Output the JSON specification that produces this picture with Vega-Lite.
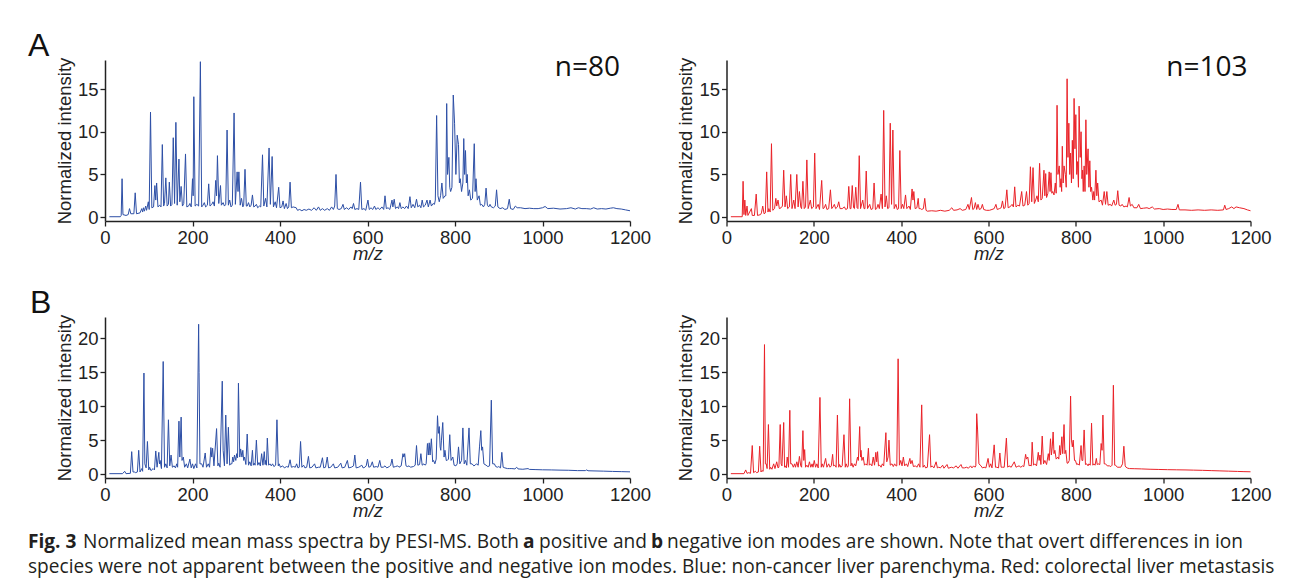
{
  "$schema": "https://vega.github.io/schema/vega-lite/v6.json",
  "background": "white",
  "padding": {"left": 28, "top": 30, "right": 5, "bottom": 5},
  "config": {
    "view": {"stroke": null},
    "axis": {
      "grid": false,
      "labelFlush": false,
      "domainColor": "#222",
      "domainWidth": 1.5,
      "tickColor": "#222",
      "tickWidth": 1.3,
      "tickSize": 5,
      "labelFont": "Liberation Sans",
      "labelFontSize": 18.5,
      "labelColor": "#222",
      "labelPadding": 2,
      "titleFont": "Liberation Sans",
      "titleFontSize": 18.5,
      "titleFontWeight": "normal",
      "titleColor": "#222"
    },
    "text": {"font": "Open Sans", "fontSize": 19.1, "color": "#231f20", "align": "left", "baseline": "alphabetic"}
  },
  "datasets": {
    "tl": [
      {"mz":10,"v":0.05},{"mz":35,"v":0.05},{"mz":37,"v":0.2},{"mz":39,"v":4.5},{"mz":41,"v":0.3},{"mz":48,"v":0.2},{"mz":53,"v":0.3},{"mz":56,"v":1.0},{"mz":59,"v":0.4},{"mz":66,"v":0.4},{"mz":69,"v":2.85},{"mz":72,"v":0.4},{"mz":80,"v":0.5},{"mz":84,"v":1.0},{"mz":86,"v":0.6},{"mz":88,"v":1.1},{"mz":90,"v":0.7},{"mz":93,"v":1.3},{"mz":95,"v":0.8},{"mz":99,"v":1.8},{"mz":101,"v":0.9},{"mz":104,"v":12.3},{"mz":107,"v":1.1},{"mz":111,"v":1.2},{"mz":114,"v":3.7},{"mz":116,"v":2.0},{"mz":118,"v":4.0},{"mz":121,"v":1.2},{"mz":125,"v":1.4},{"mz":128,"v":1.2},{"mz":131,"v":8.5},{"mz":134,"v":1.3},{"mz":136,"v":1.6},{"mz":139,"v":4.6},{"mz":142,"v":1.3},{"mz":145,"v":1.5},{"mz":147,"v":4.1},{"mz":150,"v":1.3},{"mz":153,"v":1.5},{"mz":156,"v":9.3},{"mz":159,"v":1.6},{"mz":162,"v":11.1},{"mz":165,"v":1.4},{"mz":169,"v":6.8},{"mz":171,"v":1.8},{"mz":174,"v":3.6},{"mz":177,"v":1.3},{"mz":180,"v":1.6},{"mz":184,"v":7.4},{"mz":187,"v":1.2},{"mz":191,"v":1.3},{"mz":194,"v":1.6},{"mz":197,"v":1.2},{"mz":200,"v":4.5},{"mz":201.5,"v":2.5},{"mz":203,"v":14.1},{"mz":206,"v":1.3},{"mz":210,"v":1.5},{"mz":214,"v":1.3},{"mz":218,"v":18.2},{"mz":221,"v":1.2},{"mz":224,"v":1.4},{"mz":227,"v":1.7},{"mz":230,"v":1.2},{"mz":234,"v":1.4},{"mz":237,"v":3.9},{"mz":240,"v":1.3},{"mz":244,"v":1.5},{"mz":247,"v":1.8},{"mz":250,"v":1.3},{"mz":253,"v":4.3},{"mz":255,"v":2.5},{"mz":257,"v":7.2},{"mz":260,"v":1.6},{"mz":264,"v":3.7},{"mz":266,"v":1.4},{"mz":270,"v":1.7},{"mz":273,"v":1.3},{"mz":276,"v":1.5},{"mz":279,"v":10.2},{"mz":282,"v":1.4},{"mz":285,"v":2.0},{"mz":288,"v":1.2},{"mz":291,"v":1.4},{"mz":295,"v":12.2},{"mz":298,"v":1.5},{"mz":302,"v":5.3},{"mz":304,"v":3.0},{"mz":306,"v":5.3},{"mz":309,"v":1.4},{"mz":312,"v":2.2},{"mz":315,"v":1.2},{"mz":317,"v":1.4},{"mz":320,"v":5.6},{"mz":323,"v":1.3},{"mz":325,"v":1.3},{"mz":328,"v":1.7},{"mz":331,"v":1.2},{"mz":334,"v":1.4},{"mz":337,"v":2.6},{"mz":340,"v":1.2},{"mz":343,"v":1.3},{"mz":346,"v":1.5},{"mz":349,"v":1.1},{"mz":353,"v":1.3},{"mz":356,"v":1.2},{"mz":360,"v":7.3},{"mz":363,"v":1.3},{"mz":367,"v":2.2},{"mz":370,"v":1.2},{"mz":375,"v":8.1},{"mz":378,"v":1.5},{"mz":382,"v":7.1},{"mz":385,"v":1.2},{"mz":389,"v":1.8},{"mz":392,"v":1.1},{"mz":397,"v":3.5},{"mz":400,"v":1.1},{"mz":404,"v":1.2},{"mz":407,"v":1.9},{"mz":410,"v":1.0},{"mz":414,"v":1.6},{"mz":417,"v":1.0},{"mz":420,"v":1.2},{"mz":423,"v":4.1},{"mz":426,"v":1.1},{"mz":430,"v":1.2},{"mz":437,"v":1.1},{"mz":440,"v":0.8},{"mz":445,"v":0.9},{"mz":450,"v":0.75},{"mz":455,"v":0.9},{"mz":460,"v":0.8},{"mz":466,"v":0.95},{"mz":472,"v":0.8},{"mz":478,"v":1.1},{"mz":483,"v":0.8},{"mz":488,"v":1.2},{"mz":492,"v":0.8},{"mz":497,"v":1.0},{"mz":502,"v":0.8},{"mz":508,"v":1.0},{"mz":513,"v":0.8},{"mz":518,"v":1.2},{"mz":522,"v":0.9},{"mz":525,"v":1.3},{"mz":528,"v":5.0},{"mz":531,"v":1.0},{"mz":535,"v":0.9},{"mz":540,"v":1.0},{"mz":544,"v":1.5},{"mz":547,"v":0.9},{"mz":552,"v":1.1},{"mz":557,"v":0.9},{"mz":562,"v":1.2},{"mz":565,"v":1.0},{"mz":568,"v":1.6},{"mz":571,"v":0.9},{"mz":576,"v":1.0},{"mz":580,"v":0.9},{"mz":584,"v":4.1},{"mz":587,"v":0.9},{"mz":592,"v":1.0},{"mz":596,"v":0.8},{"mz":601,"v":2.0},{"mz":604,"v":0.9},{"mz":608,"v":1.1},{"mz":612,"v":0.9},{"mz":616,"v":1.3},{"mz":619,"v":0.9},{"mz":624,"v":1.1},{"mz":628,"v":0.9},{"mz":633,"v":1.2},{"mz":637,"v":0.9},{"mz":640,"v":2.5},{"mz":643,"v":1.0},{"mz":647,"v":1.1},{"mz":651,"v":0.9},{"mz":656,"v":2.0},{"mz":658,"v":1.2},{"mz":661,"v":2.1},{"mz":664,"v":1.0},{"mz":668,"v":1.2},{"mz":671,"v":1.0},{"mz":674,"v":1.7},{"mz":677,"v":1.0},{"mz":681,"v":1.2},{"mz":685,"v":1.0},{"mz":689,"v":1.3},{"mz":693,"v":1.0},{"mz":697,"v":2.4},{"mz":700,"v":1.1},{"mz":704,"v":1.5},{"mz":708,"v":1.1},{"mz":712,"v":2.1},{"mz":715,"v":1.2},{"mz":719,"v":1.4},{"mz":722,"v":1.1},{"mz":725,"v":2.0},{"mz":728,"v":1.2},{"mz":732,"v":1.4},{"mz":736,"v":2.0},{"mz":739,"v":1.2},{"mz":743,"v":2.0},{"mz":746,"v":1.3},{"mz":750,"v":1.6},{"mz":753,"v":1.5},{"mz":755,"v":2.0},{"mz":758,"v":11.9},{"mz":761,"v":2.5},{"mz":764,"v":1.8},{"mz":767,"v":2.5},{"mz":770,"v":4.0},{"mz":773,"v":2.2},{"mz":777,"v":2.5},{"mz":779,"v":2.5},{"mz":781,"v":13.3},{"mz":783,"v":5.0},{"mz":786,"v":7.0},{"mz":788,"v":3.5},{"mz":790,"v":3.0},{"mz":793,"v":3.5},{"mz":796,"v":14.3},{"mz":799,"v":11.0},{"mz":802,"v":5.0},{"mz":805,"v":9.6},{"mz":808,"v":8.5},{"mz":810,"v":4.0},{"mz":812,"v":4.5},{"mz":815,"v":3.0},{"mz":818,"v":4.0},{"mz":820,"v":9.2},{"mz":822,"v":5.0},{"mz":824,"v":7.8},{"mz":826,"v":4.0},{"mz":828,"v":5.0},{"mz":830,"v":2.5},{"mz":833,"v":3.2},{"mz":836,"v":2.0},{"mz":840,"v":2.2},{"mz":844,"v":8.6},{"mz":846,"v":3.0},{"mz":848,"v":4.5},{"mz":851,"v":2.0},{"mz":855,"v":2.5},{"mz":858,"v":1.4},{"mz":861,"v":1.5},{"mz":865,"v":1.2},{"mz":868,"v":1.5},{"mz":871,"v":3.4},{"mz":874,"v":1.4},{"mz":877,"v":1.2},{"mz":880,"v":1.5},{"mz":883,"v":1.2},{"mz":888,"v":1.1},{"mz":892,"v":1.3},{"mz":895,"v":3.2},{"mz":898,"v":1.2},{"mz":903,"v":1.0},{"mz":909,"v":1.1},{"mz":914,"v":0.9},{"mz":920,"v":1.0},{"mz":924,"v":2.1},{"mz":927,"v":1.0},{"mz":933,"v":0.9},{"mz":938,"v":1.3},{"mz":942,"v":1.1},{"mz":950,"v":1.1},{"mz":960,"v":1.0},{"mz":970,"v":1.05},{"mz":980,"v":1.0},{"mz":990,"v":1.0},{"mz":1000,"v":1.1},{"mz":1006,"v":1.25},{"mz":1012,"v":1.0},{"mz":1025,"v":1.05},{"mz":1040,"v":0.95},{"mz":1055,"v":1.0},{"mz":1065,"v":1.1},{"mz":1075,"v":0.95},{"mz":1082,"v":1.1},{"mz":1090,"v":1.0},{"mz":1100,"v":1.0},{"mz":1110,"v":0.95},{"mz":1117,"v":1.1},{"mz":1125,"v":0.95},{"mz":1135,"v":1.0},{"mz":1145,"v":0.95},{"mz":1155,"v":1.05},{"mz":1162,"v":1.1},{"mz":1170,"v":1.0},{"mz":1180,"v":0.95},{"mz":1190,"v":0.85},{"mz":1200,"v":0.75}
    ],
    "tr": [
      {"mz":10,"v":0.05},{"mz":36,"v":0.05},{"mz":38,"v":4.2},{"mz":40,"v":0.3},{"mz":42,"v":2.0},{"mz":44,"v":0.2},{"mz":47,"v":1.3},{"mz":49,"v":0.2},{"mz":57,"v":1.0},{"mz":59,"v":0.2},{"mz":64,"v":0.2},{"mz":68,"v":2.7},{"mz":71,"v":0.2},{"mz":78,"v":0.3},{"mz":80,"v":0.5},{"mz":83,"v":1.3},{"mz":86,"v":0.4},{"mz":89,"v":0.5},{"mz":92,"v":5.3},{"mz":95,"v":0.6},{"mz":97,"v":1.0},{"mz":100,"v":0.6},{"mz":103,"v":8.6},{"mz":106,"v":0.8},{"mz":110,"v":1.0},{"mz":113,"v":2.2},{"mz":115,"v":1.3},{"mz":118,"v":2.0},{"mz":121,"v":1.0},{"mz":125,"v":1.1},{"mz":128,"v":1.3},{"mz":131,"v":5.5},{"mz":134,"v":1.2},{"mz":137,"v":2.5},{"mz":140,"v":1.0},{"mz":144,"v":1.2},{"mz":147,"v":5.0},{"mz":150,"v":1.0},{"mz":154,"v":2.0},{"mz":157,"v":1.0},{"mz":161,"v":5.0},{"mz":164,"v":1.2},{"mz":167,"v":3.0},{"mz":170,"v":1.2},{"mz":172,"v":1.0},{"mz":175,"v":4.2},{"mz":178,"v":1.0},{"mz":181,"v":1.2},{"mz":184,"v":6.7},{"mz":187,"v":1.0},{"mz":192,"v":2.0},{"mz":195,"v":1.0},{"mz":199,"v":1.2},{"mz":202,"v":7.5},{"mz":205,"v":1.0},{"mz":210,"v":1.5},{"mz":213,"v":0.9},{"mz":218,"v":4.3},{"mz":221,"v":1.0},{"mz":224,"v":1.1},{"mz":227,"v":1.5},{"mz":230,"v":0.9},{"mz":234,"v":1.0},{"mz":238,"v":3.2},{"mz":241,"v":1.0},{"mz":244,"v":1.2},{"mz":247,"v":1.5},{"mz":250,"v":1.0},{"mz":254,"v":1.2},{"mz":257,"v":1.8},{"mz":260,"v":1.0},{"mz":265,"v":1.0},{"mz":270,"v":1.2},{"mz":273,"v":0.9},{"mz":277,"v":1.0},{"mz":280,"v":3.6},{"mz":283,"v":1.0},{"mz":285,"v":1.0},{"mz":288,"v":3.7},{"mz":291,"v":1.1},{"mz":293,"v":1.0},{"mz":296,"v":3.5},{"mz":299,"v":1.1},{"mz":301,"v":1.0},{"mz":304,"v":7.2},{"mz":307,"v":1.0},{"mz":312,"v":2.0},{"mz":315,"v":1.0},{"mz":317,"v":1.0},{"mz":320,"v":5.4},{"mz":323,"v":1.0},{"mz":328,"v":1.5},{"mz":331,"v":0.9},{"mz":335,"v":1.0},{"mz":338,"v":4.0},{"mz":341,"v":0.9},{"mz":344,"v":1.0},{"mz":347,"v":1.5},{"mz":350,"v":1.0},{"mz":354,"v":2.7},{"mz":357,"v":1.0},{"mz":360,"v":12.5},{"mz":363,"v":1.2},{"mz":366,"v":2.5},{"mz":369,"v":1.0},{"mz":372,"v":1.1},{"mz":375,"v":11.0},{"mz":378,"v":1.5},{"mz":381,"v":10.2},{"mz":384,"v":1.0},{"mz":388,"v":1.5},{"mz":391,"v":0.9},{"mz":394,"v":1.0},{"mz":397,"v":7.8},{"mz":400,"v":1.0},{"mz":403,"v":1.5},{"mz":406,"v":1.0},{"mz":410,"v":2.6},{"mz":413,"v":1.0},{"mz":418,"v":1.3},{"mz":421,"v":0.9},{"mz":425,"v":3.3},{"mz":427,"v":2.0},{"mz":429,"v":3.0},{"mz":432,"v":1.0},{"mz":436,"v":1.1},{"mz":439,"v":2.2},{"mz":441,"v":1.0},{"mz":444,"v":1.0},{"mz":447,"v":0.9},{"mz":451,"v":1.0},{"mz":454,"v":2.2},{"mz":457,"v":0.8},{"mz":460,"v":0.7},{"mz":470,"v":0.75},{"mz":480,"v":0.7},{"mz":490,"v":0.8},{"mz":500,"v":0.7},{"mz":510,"v":0.8},{"mz":516,"v":1.1},{"mz":520,"v":0.8},{"mz":528,"v":0.85},{"mz":535,"v":1.0},{"mz":540,"v":0.8},{"mz":548,"v":0.9},{"mz":553,"v":1.5},{"mz":556,"v":0.9},{"mz":561,"v":2.3},{"mz":564,"v":0.9},{"mz":567,"v":1.0},{"mz":570,"v":1.7},{"mz":573,"v":0.9},{"mz":576,"v":1.5},{"mz":579,"v":0.9},{"mz":583,"v":1.0},{"mz":586,"v":1.5},{"mz":589,"v":0.9},{"mz":595,"v":0.8},{"mz":602,"v":0.8},{"mz":608,"v":0.9},{"mz":613,"v":1.0},{"mz":617,"v":1.5},{"mz":620,"v":0.9},{"mz":625,"v":1.0},{"mz":629,"v":1.1},{"mz":632,"v":1.9},{"mz":635,"v":1.0},{"mz":638,"v":1.1},{"mz":642,"v":3.2},{"mz":645,"v":1.1},{"mz":649,"v":1.2},{"mz":654,"v":1.5},{"mz":657,"v":1.2},{"mz":660,"v":3.55},{"mz":663,"v":1.2},{"mz":667,"v":1.4},{"mz":671,"v":1.3},{"mz":676,"v":3.0},{"mz":679,"v":1.3},{"mz":683,"v":1.4},{"mz":687,"v":3.0},{"mz":690,"v":1.4},{"mz":693,"v":1.6},{"mz":696,"v":5.9},{"mz":699,"v":1.8},{"mz":702,"v":5.8},{"mz":705,"v":1.6},{"mz":708,"v":2.0},{"mz":711,"v":2.5},{"mz":714,"v":1.8},{"mz":717,"v":6.3},{"mz":720,"v":2.0},{"mz":723,"v":2.2},{"mz":727,"v":5.5},{"mz":729,"v":2.5},{"mz":731,"v":5.1},{"mz":733,"v":2.3},{"mz":736,"v":2.8},{"mz":739,"v":5.3},{"mz":741,"v":3.0},{"mz":743,"v":5.2},{"mz":745,"v":2.8},{"mz":747,"v":3.0},{"mz":750,"v":2.6},{"mz":753,"v":4.0},{"mz":755,"v":2.8},{"mz":757,"v":13.1},{"mz":759,"v":5.0},{"mz":762,"v":6.0},{"mz":764,"v":3.5},{"mz":766,"v":4.5},{"mz":767.5,"v":3.0},{"mz":769,"v":8.3},{"mz":771,"v":4.0},{"mz":773,"v":6.0},{"mz":776,"v":5.0},{"mz":778,"v":3.5},{"mz":780,"v":16.2},{"mz":782,"v":7.0},{"mz":784,"v":11.0},{"mz":786,"v":5.0},{"mz":788,"v":7.5},{"mz":790,"v":4.0},{"mz":792,"v":9.0},{"mz":794,"v":4.5},{"mz":796,"v":13.9},{"mz":798,"v":8.0},{"mz":800,"v":12.0},{"mz":802,"v":5.0},{"mz":804,"v":6.5},{"mz":806,"v":3.5},{"mz":807.5,"v":13.0},{"mz":810,"v":7.0},{"mz":812,"v":10.0},{"mz":814,"v":4.5},{"mz":815.5,"v":5.5},{"mz":817,"v":3.0},{"mz":819,"v":6.0},{"mz":821,"v":3.0},{"mz":823,"v":11.4},{"mz":825,"v":5.0},{"mz":828,"v":8.0},{"mz":830,"v":3.5},{"mz":832,"v":6.6},{"mz":834,"v":3.0},{"mz":836,"v":3.5},{"mz":839,"v":2.0},{"mz":841,"v":3.0},{"mz":843,"v":2.0},{"mz":846,"v":5.5},{"mz":848,"v":2.5},{"mz":850,"v":4.0},{"mz":853,"v":1.8},{"mz":858,"v":2.0},{"mz":861,"v":1.4},{"mz":865,"v":3.0},{"mz":868,"v":1.5},{"mz":871,"v":3.0},{"mz":874,"v":1.4},{"mz":879,"v":1.5},{"mz":882,"v":1.3},{"mz":887,"v":2.0},{"mz":890,"v":1.4},{"mz":893,"v":1.5},{"mz":896,"v":3.1},{"mz":899,"v":1.4},{"mz":903,"v":1.3},{"mz":906,"v":1.5},{"mz":910,"v":1.2},{"mz":915,"v":1.3},{"mz":918,"v":1.2},{"mz":922,"v":2.3},{"mz":925,"v":1.3},{"mz":929,"v":1.5},{"mz":933,"v":1.1},{"mz":940,"v":1.1},{"mz":944,"v":1.5},{"mz":948,"v":1.0},{"mz":955,"v":1.05},{"mz":963,"v":1.1},{"mz":968,"v":1.0},{"mz":975,"v":1.2},{"mz":980,"v":0.95},{"mz":991,"v":1.0},{"mz":1000,"v":0.9},{"mz":1010,"v":0.95},{"mz":1020,"v":0.9},{"mz":1030,"v":0.9},{"mz":1034,"v":1.5},{"mz":1037,"v":0.85},{"mz":1050,"v":0.85},{"mz":1065,"v":0.8},{"mz":1080,"v":0.85},{"mz":1095,"v":0.8},{"mz":1110,"v":0.85},{"mz":1125,"v":0.8},{"mz":1138,"v":0.85},{"mz":1141,"v":1.4},{"mz":1144,"v":0.9},{"mz":1150,"v":1.0},{"mz":1157,"v":1.2},{"mz":1162,"v":1.0},{"mz":1167,"v":1.2},{"mz":1175,"v":1.1},{"mz":1185,"v":1.0},{"mz":1193,"v":0.85},{"mz":1200,"v":0.75}
    ],
    "bl": [
      {"mz":10,"v":0.05},{"mz":40,"v":0.05},{"mz":45,"v":0.4},{"mz":48,"v":0.05},{"mz":58,"v":0.1},{"mz":61,"v":3.3},{"mz":64,"v":0.3},{"mz":67,"v":0.3},{"mz":70,"v":0.2},{"mz":74,"v":0.3},{"mz":77,"v":3.5},{"mz":80,"v":0.3},{"mz":84,"v":0.8},{"mz":86,"v":0.4},{"mz":89,"v":14.9},{"mz":91,"v":1.5},{"mz":94,"v":0.9},{"mz":97,"v":4.8},{"mz":100,"v":0.6},{"mz":102,"v":1.0},{"mz":105,"v":0.5},{"mz":110,"v":0.8},{"mz":113,"v":0.6},{"mz":116,"v":3.4},{"mz":119,"v":1.0},{"mz":123,"v":3.2},{"mz":124.5,"v":1.5},{"mz":126,"v":2.0},{"mz":129,"v":0.8},{"mz":133,"v":16.6},{"mz":136,"v":1.0},{"mz":139,"v":1.5},{"mz":142,"v":0.9},{"mz":145,"v":8.0},{"mz":148,"v":1.2},{"mz":151,"v":2.8},{"mz":154,"v":1.0},{"mz":158,"v":1.2},{"mz":161,"v":0.9},{"mz":164,"v":1.5},{"mz":166,"v":1.0},{"mz":169,"v":7.8},{"mz":171,"v":2.5},{"mz":174,"v":8.4},{"mz":176,"v":2.0},{"mz":179,"v":2.5},{"mz":182,"v":1.0},{"mz":186,"v":1.5},{"mz":189,"v":0.9},{"mz":194,"v":2.2},{"mz":197,"v":0.9},{"mz":200,"v":1.5},{"mz":203,"v":0.8},{"mz":207,"v":1.5},{"mz":210,"v":0.9},{"mz":214,"v":22.1},{"mz":215,"v":15.0},{"mz":217,"v":1.5},{"mz":221,"v":1.5},{"mz":224,"v":1.0},{"mz":229,"v":3.1},{"mz":232,"v":1.0},{"mz":236,"v":1.5},{"mz":239,"v":1.0},{"mz":242,"v":3.9},{"mz":244,"v":2.5},{"mz":246,"v":3.8},{"mz":249,"v":1.2},{"mz":255,"v":6.7},{"mz":258,"v":1.2},{"mz":260,"v":1.6},{"mz":263,"v":1.0},{"mz":268,"v":13.7},{"mz":270,"v":3.5},{"mz":273,"v":1.2},{"mz":276,"v":8.7},{"mz":279,"v":1.5},{"mz":282,"v":6.9},{"mz":285,"v":1.3},{"mz":287,"v":1.5},{"mz":290,"v":1.5},{"mz":292,"v":2.5},{"mz":294,"v":1.8},{"mz":296,"v":2.8},{"mz":299,"v":2.0},{"mz":301,"v":3.0},{"mz":303,"v":2.4},{"mz":305,"v":13.4},{"mz":308,"v":2.5},{"mz":310,"v":3.7},{"mz":313,"v":2.5},{"mz":315,"v":3.5},{"mz":317,"v":2.0},{"mz":319,"v":2.5},{"mz":322,"v":1.4},{"mz":325,"v":5.9},{"mz":328,"v":1.3},{"mz":331,"v":1.8},{"mz":334,"v":1.2},{"mz":337,"v":3.5},{"mz":339,"v":1.3},{"mz":341,"v":1.6},{"mz":343,"v":1.3},{"mz":346,"v":5.0},{"mz":349,"v":1.3},{"mz":352,"v":1.7},{"mz":355,"v":1.2},{"mz":358,"v":3.0},{"mz":361,"v":1.3},{"mz":364,"v":3.3},{"mz":366,"v":1.4},{"mz":367,"v":2.0},{"mz":369,"v":1.3},{"mz":371,"v":5.3},{"mz":374,"v":1.3},{"mz":377,"v":1.5},{"mz":380,"v":1.2},{"mz":383,"v":1.5},{"mz":386,"v":1.1},{"mz":390,"v":1.3},{"mz":393,"v":8.0},{"mz":396,"v":1.2},{"mz":398,"v":1.5},{"mz":401,"v":1.0},{"mz":406,"v":1.2},{"mz":410,"v":0.9},{"mz":415,"v":1.1},{"mz":419,"v":1.0},{"mz":423,"v":2.1},{"mz":426,"v":1.0},{"mz":431,"v":1.1},{"mz":435,"v":1.0},{"mz":438,"v":1.5},{"mz":441,"v":0.9},{"mz":444,"v":1.0},{"mz":447,"v":4.8},{"mz":450,"v":1.0},{"mz":454,"v":1.3},{"mz":457,"v":0.9},{"mz":461,"v":1.0},{"mz":465,"v":2.6},{"mz":468,"v":0.9},{"mz":473,"v":1.0},{"mz":479,"v":1.5},{"mz":482,"v":0.9},{"mz":488,"v":1.0},{"mz":492,"v":1.0},{"mz":497,"v":2.4},{"mz":500,"v":0.9},{"mz":504,"v":1.0},{"mz":508,"v":2.5},{"mz":511,"v":0.9},{"mz":516,"v":1.0},{"mz":522,"v":1.5},{"mz":525,"v":0.9},{"mz":532,"v":1.0},{"mz":539,"v":1.6},{"mz":542,"v":0.9},{"mz":548,"v":1.0},{"mz":554,"v":2.0},{"mz":557,"v":0.9},{"mz":563,"v":1.0},{"mz":568,"v":1.2},{"mz":571,"v":2.8},{"mz":574,"v":0.9},{"mz":580,"v":1.0},{"mz":587,"v":1.3},{"mz":590,"v":0.9},{"mz":594,"v":1.0},{"mz":597,"v":1.2},{"mz":600,"v":2.2},{"mz":603,"v":1.0},{"mz":607,"v":1.1},{"mz":611,"v":1.8},{"mz":614,"v":1.0},{"mz":620,"v":1.1},{"mz":624,"v":1.0},{"mz":628,"v":2.0},{"mz":631,"v":1.0},{"mz":636,"v":1.0},{"mz":640,"v":1.2},{"mz":644,"v":0.9},{"mz":650,"v":1.1},{"mz":653,"v":1.3},{"mz":656,"v":2.2},{"mz":659,"v":1.0},{"mz":664,"v":1.1},{"mz":669,"v":1.2},{"mz":672,"v":1.0},{"mz":677,"v":1.2},{"mz":681,"v":3.0},{"mz":683,"v":2.5},{"mz":685,"v":3.0},{"mz":688,"v":1.2},{"mz":691,"v":1.1},{"mz":695,"v":1.2},{"mz":698,"v":1.0},{"mz":705,"v":1.1},{"mz":709,"v":1.3},{"mz":712,"v":4.2},{"mz":715,"v":1.3},{"mz":719,"v":1.4},{"mz":722,"v":3.0},{"mz":725,"v":1.3},{"mz":729,"v":1.5},{"mz":732,"v":1.3},{"mz":734,"v":1.5},{"mz":737,"v":4.5},{"mz":739,"v":2.8},{"mz":741,"v":4.6},{"mz":743,"v":2.8},{"mz":746,"v":5.2},{"mz":749,"v":1.8},{"mz":751,"v":2.0},{"mz":754,"v":1.5},{"mz":757,"v":2.2},{"mz":760,"v":8.6},{"mz":762,"v":6.0},{"mz":764,"v":7.0},{"mz":766,"v":4.0},{"mz":767.5,"v":3.5},{"mz":769,"v":5.0},{"mz":772,"v":7.6},{"mz":775,"v":2.5},{"mz":777,"v":3.5},{"mz":780,"v":2.0},{"mz":782,"v":2.0},{"mz":785,"v":2.2},{"mz":788,"v":5.8},{"mz":791,"v":2.0},{"mz":795,"v":2.5},{"mz":798,"v":1.3},{"mz":802,"v":1.2},{"mz":805,"v":1.5},{"mz":808,"v":4.0},{"mz":811,"v":1.5},{"mz":815,"v":2.0},{"mz":818,"v":6.8},{"mz":821,"v":1.5},{"mz":824,"v":2.0},{"mz":827,"v":1.3},{"mz":832,"v":6.8},{"mz":835,"v":1.5},{"mz":839,"v":1.5},{"mz":843,"v":1.2},{"mz":846,"v":1.3},{"mz":849,"v":1.5},{"mz":853,"v":1.3},{"mz":856,"v":4.0},{"mz":859,"v":6.4},{"mz":861,"v":3.5},{"mz":863,"v":4.0},{"mz":866,"v":1.5},{"mz":871,"v":1.3},{"mz":875,"v":1.1},{"mz":879,"v":1.2},{"mz":883,"v":10.9},{"mz":886,"v":1.5},{"mz":890,"v":1.5},{"mz":893,"v":1.1},{"mz":897,"v":1.0},{"mz":900,"v":1.1},{"mz":904,"v":0.9},{"mz":907,"v":3.2},{"mz":910,"v":1.0},{"mz":914,"v":0.9},{"mz":920,"v":0.8},{"mz":924,"v":0.8},{"mz":930,"v":0.8},{"mz":937,"v":0.75},{"mz":941,"v":1.0},{"mz":944,"v":0.75},{"mz":955,"v":0.7},{"mz":967,"v":0.8},{"mz":970,"v":0.68},{"mz":985,"v":0.65},{"mz":1000,"v":0.62},{"mz":1020,"v":0.6},{"mz":1040,"v":0.57},{"mz":1060,"v":0.55},{"mz":1080,"v":0.5},{"mz":1098,"v":0.5},{"mz":1101,"v":0.6},{"mz":1104,"v":0.48},{"mz":1120,"v":0.45},{"mz":1140,"v":0.42},{"mz":1160,"v":0.38},{"mz":1180,"v":0.35},{"mz":1200,"v":0.32}
    ],
    "br": [
      {"mz":10,"v":0.05},{"mz":40,"v":0.05},{"mz":44,"v":0.6},{"mz":47,"v":0.1},{"mz":51,"v":0.2},{"mz":55,"v":0.1},{"mz":59,"v":4.2},{"mz":62,"v":0.2},{"mz":66,"v":0.4},{"mz":69,"v":0.2},{"mz":73,"v":0.3},{"mz":76,"v":4.1},{"mz":79,"v":0.3},{"mz":81,"v":0.5},{"mz":84,"v":0.4},{"mz":87,"v":19.1},{"mz":89,"v":1.5},{"mz":91,"v":1.5},{"mz":93,"v":0.8},{"mz":96,"v":7.3},{"mz":99,"v":0.7},{"mz":101,"v":1.0},{"mz":104,"v":0.7},{"mz":108,"v":1.5},{"mz":111,"v":0.8},{"mz":115,"v":1.8},{"mz":118,"v":0.9},{"mz":120,"v":1.0},{"mz":123,"v":7.3},{"mz":125,"v":1.5},{"mz":127,"v":1.2},{"mz":131,"v":7.6},{"mz":133,"v":1.0},{"mz":135,"v":1.2},{"mz":137,"v":0.9},{"mz":139,"v":2.5},{"mz":142,"v":1.0},{"mz":145,"v":9.4},{"mz":147,"v":1.5},{"mz":150,"v":1.5},{"mz":153,"v":1.0},{"mz":156,"v":1.5},{"mz":158,"v":1.0},{"mz":161,"v":1.8},{"mz":164,"v":1.0},{"mz":167,"v":2.6},{"mz":170,"v":1.2},{"mz":172,"v":1.0},{"mz":175,"v":6.4},{"mz":177,"v":2.0},{"mz":179,"v":3.6},{"mz":181,"v":1.0},{"mz":184,"v":1.3},{"mz":187,"v":1.0},{"mz":190,"v":1.8},{"mz":193,"v":1.0},{"mz":196,"v":1.5},{"mz":198,"v":1.0},{"mz":201,"v":2.0},{"mz":204,"v":1.0},{"mz":207,"v":1.5},{"mz":210,"v":0.9},{"mz":214,"v":11.3},{"mz":217,"v":1.0},{"mz":219,"v":1.5},{"mz":222,"v":1.0},{"mz":227,"v":2.3},{"mz":230,"v":1.0},{"mz":234,"v":1.5},{"mz":237,"v":1.0},{"mz":240,"v":1.2},{"mz":243,"v":2.9},{"mz":245,"v":1.2},{"mz":248,"v":1.3},{"mz":251,"v":1.0},{"mz":254,"v":8.7},{"mz":257,"v":1.0},{"mz":259,"v":1.4},{"mz":262,"v":1.0},{"mz":265,"v":1.2},{"mz":269,"v":5.8},{"mz":272,"v":1.0},{"mz":274,"v":1.5},{"mz":277,"v":1.0},{"mz":279,"v":1.2},{"mz":282,"v":11.1},{"mz":285,"v":1.2},{"mz":287,"v":1.6},{"mz":290,"v":1.0},{"mz":293,"v":1.5},{"mz":296,"v":1.2},{"mz":300,"v":2.5},{"mz":302,"v":2.0},{"mz":305,"v":7.0},{"mz":307,"v":2.5},{"mz":308,"v":3.5},{"mz":310,"v":2.0},{"mz":313,"v":2.5},{"mz":316,"v":1.3},{"mz":319,"v":1.5},{"mz":322,"v":1.3},{"mz":325,"v":3.8},{"mz":327,"v":1.3},{"mz":330,"v":1.5},{"mz":333,"v":1.2},{"mz":336,"v":2.5},{"mz":339,"v":1.3},{"mz":342,"v":3.2},{"mz":344,"v":1.8},{"mz":346,"v":3.3},{"mz":348,"v":1.2},{"mz":351,"v":1.3},{"mz":354,"v":1.0},{"mz":357,"v":1.5},{"mz":360,"v":1.2},{"mz":365,"v":6.1},{"mz":367,"v":1.8},{"mz":370,"v":2.5},{"mz":372,"v":5.0},{"mz":375,"v":1.3},{"mz":379,"v":1.5},{"mz":382,"v":1.1},{"mz":385,"v":1.5},{"mz":388,"v":1.2},{"mz":390,"v":1.2},{"mz":393,"v":17.0},{"mz":396,"v":1.3},{"mz":399,"v":2.0},{"mz":402,"v":1.2},{"mz":405,"v":2.5},{"mz":408,"v":1.2},{"mz":412,"v":1.5},{"mz":415,"v":1.1},{"mz":420,"v":2.3},{"mz":422,"v":1.5},{"mz":425,"v":2.0},{"mz":428,"v":1.1},{"mz":433,"v":1.2},{"mz":436,"v":1.0},{"mz":440,"v":1.5},{"mz":443,"v":1.0},{"mz":447,"v":10.2},{"mz":450,"v":1.0},{"mz":453,"v":1.3},{"mz":456,"v":0.9},{"mz":460,"v":1.0},{"mz":465,"v":5.8},{"mz":468,"v":1.0},{"mz":471,"v":1.2},{"mz":475,"v":0.9},{"mz":480,"v":1.8},{"mz":483,"v":0.9},{"mz":486,"v":1.0},{"mz":490,"v":0.9},{"mz":495,"v":1.3},{"mz":498,"v":0.85},{"mz":505,"v":1.4},{"mz":508,"v":0.85},{"mz":515,"v":1.0},{"mz":520,"v":0.9},{"mz":526,"v":1.2},{"mz":530,"v":0.85},{"mz":537,"v":1.4},{"mz":540,"v":0.9},{"mz":545,"v":0.9},{"mz":550,"v":1.0},{"mz":554,"v":0.85},{"mz":559,"v":1.2},{"mz":562,"v":0.9},{"mz":566,"v":1.2},{"mz":569,"v":1.0},{"mz":571,"v":1.2},{"mz":573,"v":8.9},{"mz":575,"v":6.5},{"mz":578,"v":1.5},{"mz":583,"v":1.2},{"mz":586,"v":0.9},{"mz":590,"v":1.0},{"mz":594,"v":0.9},{"mz":599,"v":2.3},{"mz":602,"v":1.0},{"mz":605,"v":1.5},{"mz":608,"v":0.9},{"mz":613,"v":4.3},{"mz":616,"v":1.0},{"mz":619,"v":1.0},{"mz":623,"v":0.9},{"mz":626,"v":3.1},{"mz":629,"v":1.0},{"mz":632,"v":1.0},{"mz":636,"v":1.0},{"mz":641,"v":5.3},{"mz":644,"v":1.0},{"mz":647,"v":1.2},{"mz":652,"v":1.0},{"mz":659,"v":1.8},{"mz":663,"v":1.0},{"mz":666,"v":1.1},{"mz":670,"v":1.2},{"mz":674,"v":1.0},{"mz":678,"v":1.2},{"mz":681,"v":1.1},{"mz":685,"v":2.9},{"mz":687,"v":2.2},{"mz":690,"v":2.5},{"mz":693,"v":1.2},{"mz":695,"v":1.3},{"mz":698,"v":1.2},{"mz":700,"v":4.7},{"mz":703,"v":1.3},{"mz":706,"v":1.5},{"mz":710,"v":1.2},{"mz":714,"v":3.2},{"mz":716,"v":2.0},{"mz":718,"v":2.8},{"mz":720,"v":1.4},{"mz":723,"v":5.6},{"mz":726,"v":1.5},{"mz":729,"v":2.0},{"mz":733,"v":1.4},{"mz":737,"v":3.0},{"mz":739,"v":2.0},{"mz":742,"v":5.2},{"mz":744,"v":2.8},{"mz":746,"v":4.0},{"mz":748,"v":6.2},{"mz":750,"v":3.0},{"mz":752,"v":3.5},{"mz":755,"v":2.2},{"mz":759,"v":2.5},{"mz":761,"v":2.2},{"mz":763,"v":4.2},{"mz":765,"v":2.8},{"mz":768,"v":5.5},{"mz":770,"v":3.0},{"mz":773,"v":7.3},{"mz":775,"v":3.0},{"mz":777,"v":3.5},{"mz":780,"v":1.6},{"mz":782,"v":1.6},{"mz":785,"v":2.0},{"mz":788,"v":11.5},{"mz":790,"v":5.0},{"mz":792,"v":4.0},{"mz":794,"v":5.0},{"mz":797,"v":2.0},{"mz":799,"v":2.0},{"mz":802,"v":1.4},{"mz":805,"v":1.5},{"mz":808,"v":1.3},{"mz":812,"v":4.2},{"mz":814,"v":2.0},{"mz":816,"v":2.0},{"mz":819,"v":6.5},{"mz":822,"v":1.4},{"mz":825,"v":1.5},{"mz":828,"v":1.2},{"mz":830,"v":1.5},{"mz":833,"v":1.3},{"mz":836,"v":7.5},{"mz":839,"v":1.3},{"mz":841,"v":1.5},{"mz":844,"v":1.3},{"mz":847,"v":2.3},{"mz":849,"v":1.4},{"mz":851,"v":1.5},{"mz":855,"v":1.4},{"mz":858,"v":4.5},{"mz":860,"v":3.5},{"mz":862,"v":8.7},{"mz":865,"v":1.5},{"mz":868,"v":1.5},{"mz":872,"v":1.2},{"mz":877,"v":1.2},{"mz":880,"v":1.1},{"mz":883,"v":1.3},{"mz":886,"v":13.1},{"mz":889,"v":1.3},{"mz":891,"v":1.3},{"mz":895,"v":1.0},{"mz":899,"v":1.0},{"mz":903,"v":1.0},{"mz":907,"v":1.5},{"mz":910,"v":4.1},{"mz":913,"v":1.2},{"mz":915,"v":1.0},{"mz":919,"v":0.85},{"mz":923,"v":0.8},{"mz":935,"v":0.78},{"mz":950,"v":0.75},{"mz":970,"v":0.7},{"mz":990,"v":0.67},{"mz":1010,"v":0.64},{"mz":1030,"v":0.62},{"mz":1050,"v":0.6},{"mz":1070,"v":0.57},{"mz":1090,"v":0.54},{"mz":1110,"v":0.5},{"mz":1130,"v":0.46},{"mz":1150,"v":0.42},{"mz":1170,"v":0.38},{"mz":1185,"v":0.35},{"mz":1200,"v":0.33}
    ],
    "cap": [
      {"line": 1, "seg": "s1", "txt": "Fig. 3"},
      {"line": 1, "seg": "s2", "txt": "Normalized mean mass spectra by PESI-MS. Both"},
      {"line": 1, "seg": "s3", "txt": "a"},
      {"line": 1, "seg": "s4", "txt": "positive and"},
      {"line": 1, "seg": "s5", "txt": "b"},
      {"line": 1, "seg": "s6", "txt": "negative ion modes are shown. Note that overt differences in ion"},
      {"line": 2, "seg": "s7", "txt": "species were not apparent between the positive and negative ion modes. Blue: non-cancer liver parenchyma. Red: colorectal liver metastasis"}
    ]
  },
  "spacing": 24,
  "vconcat": [
    {
      "spacing": 25.5,
      "hconcat": [
        {
          "width": 525, "height": 161,
          "title": {"text": "A", "anchor": "start", "frame": "group", "orient": "top", "font": "Liberation Sans", "fontSize": 32, "fontWeight": "normal", "color": "#111", "dx": -77, "offset": -34, "baseline": "alphabetic"},
          "layer": [
            {
              "data": {"name": "tl"},
              "mark": {"type": "line", "color": "#2d4fa6", "strokeWidth": 1},
              "encoding": {
                "x": {"field": "mz", "type": "quantitative", "scale": {"domain": [0, 1200], "nice": false, "zero": false}, "axis": {"values": [0, 200, 400, 600, 800, 1000, 1200], "format": "d", "title": "m/z", "titleFontStyle": "italic", "titlePadding": -2}},
                "y": {"field": "v", "type": "quantitative", "scale": {"domain": [-0.45, 18.4], "nice": false, "zero": false}, "axis": {"values": [0, 5, 10, 15], "title": "Normalized intensity", "titlePadding": 3}}
              }
            },
            {
              "data": {"values": [{"label": "n=80"}]},
              "mark": {"type": "text", "align": "right", "baseline": "alphabetic", "font": "Open Sans", "fontSize": 28, "color": "#111"},
              "encoding": {
                "x": {"datum": 1177, "type": "quantitative"},
                "y": {"datum": 16.5, "type": "quantitative"},
                "text": {"field": "label"}
              }
            }
          ]
        },
        {
          "width": 524, "height": 161,
          "layer": [
            {
              "data": {"name": "tr"},
              "mark": {"type": "line", "color": "#ea2228", "strokeWidth": 1},
              "encoding": {
                "x": {"field": "mz", "type": "quantitative", "scale": {"domain": [0, 1200], "nice": false, "zero": false}, "axis": {"values": [0, 200, 400, 600, 800, 1000, 1200], "format": "d", "title": "m/z", "titleFontStyle": "italic", "titlePadding": -2}},
                "y": {"field": "v", "type": "quantitative", "scale": {"domain": [-0.45, 18.4], "nice": false, "zero": false}, "axis": {"values": [0, 5, 10, 15], "title": "Normalized intensity", "titlePadding": 3}}
              }
            },
            {
              "data": {"values": [{"label": "n=103"}]},
              "mark": {"type": "text", "align": "right", "baseline": "alphabetic", "font": "Open Sans", "fontSize": 28, "color": "#111"},
              "encoding": {
                "x": {"datum": 1193, "type": "quantitative"},
                "y": {"datum": 16.5, "type": "quantitative"},
                "text": {"field": "label"}
              }
            }
          ]
        }
      ]
    },
    {
      "spacing": 13,
      "vconcat": [
        {
          "spacing": 25.5,
          "hconcat": [
            {
              "width": 525, "height": 161,
              "title": {"text": "B", "anchor": "start", "frame": "group", "orient": "top", "font": "Liberation Sans", "fontSize": 32, "fontWeight": "normal", "color": "#111", "dx": -75, "offset": -31, "baseline": "alphabetic"},
              "data": {"name": "bl"},
              "mark": {"type": "line", "color": "#2d4fa6", "strokeWidth": 1},
              "encoding": {
                "x": {"field": "mz", "type": "quantitative", "scale": {"domain": [0, 1200], "nice": false, "zero": false}, "axis": {"values": [0, 200, 400, 600, 800, 1000, 1200], "format": "d", "title": "m/z", "titleFontStyle": "italic", "titlePadding": -2}},
                "y": {"field": "v", "type": "quantitative", "scale": {"domain": [-0.59, 23.17], "nice": false, "zero": false}, "axis": {"values": [0, 5, 10, 15, 20], "title": "Normalized intensity", "titlePadding": 3}}
              }
            },
            {
              "width": 524, "height": 161,
              "data": {"name": "br"},
              "mark": {"type": "line", "color": "#ea2228", "strokeWidth": 1},
              "encoding": {
                "x": {"field": "mz", "type": "quantitative", "scale": {"domain": [0, 1200], "nice": false, "zero": false}, "axis": {"values": [0, 200, 400, 600, 800, 1000, 1200], "format": "d", "title": "m/z", "titleFontStyle": "italic", "titlePadding": -2}},
                "y": {"field": "v", "type": "quantitative", "scale": {"domain": [-0.59, 23.17], "nice": false, "zero": false}, "axis": {"values": [0, 5, 10, 15, 20], "title": "Normalized intensity", "titlePadding": 3}}
              }
            }
          ]
        },
        {
          "width": 1160, "height": 25,
          "data": {"name": "cap"},
          "encoding": {
            "x": {"value": 0},
            "y": {"field": "line", "type": "ordinal", "axis": null, "scale": {"type": "point", "padding": 0, "domain": [1, 2]}},
            "text": {"field": "txt"}
          },
          "layer": [
            {"transform": [{"filter": "datum.seg == 's1'"}], "mark": {"type": "text", "fontWeight": "bold", "dx": -77}},
            {"transform": [{"filter": "datum.seg == 's2'"}], "mark": {"type": "text", "dx": -22}},
            {"transform": [{"filter": "datum.seg == 's3'"}], "mark": {"type": "text", "fontWeight": "bold", "dx": 418}},
            {"transform": [{"filter": "datum.seg == 's4'"}], "mark": {"type": "text", "dx": 434}},
            {"transform": [{"filter": "datum.seg == 's5'"}], "mark": {"type": "text", "fontWeight": "bold", "dx": 546}},
            {"transform": [{"filter": "datum.seg == 's6'"}], "mark": {"type": "text", "dx": 562}},
            {"transform": [{"filter": "datum.seg == 's7'"}], "mark": {"type": "text", "dx": -77}}
          ]
        }
      ]
    }
  ]
}
